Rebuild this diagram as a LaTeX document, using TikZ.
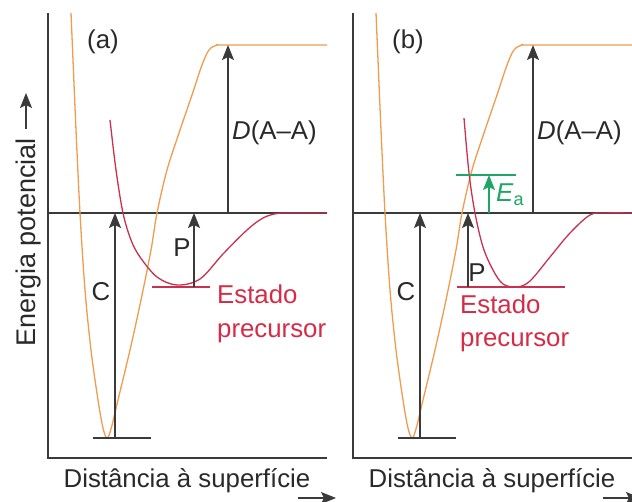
\documentclass[tikz,border=0pt]{standalone}
\usepackage{fontspec}
\setmainfont{Liberation Sans}
\usetikzlibrary{arrows.meta,positioning}
\definecolor{AxisGrey}{HTML}{3A3A3A}
\definecolor{CurveOrange}{HTML}{EE9C4E}
\definecolor{CurveRed}{HTML}{C8324E}
\definecolor{LabelRed}{HTML}{D62B46}
\definecolor{EaGreen}{HTML}{1FA566}

\begin{document}
\begin{tikzpicture}[x=1pt,y=-1pt,
  axis/.style={AxisGrey,line width=1.5pt},
  level/.style={AxisGrey,line width=1.4pt,-{Stealth[length=15pt,width=12pt,inset=3pt]}},
  orange/.style={CurveOrange,line width=1.3pt},
  redcurve/.style={CurveRed,line width=1.3pt},
  lab/.style={font=\fontsize{25.8}{30}\selectfont,text=AxisGrey!70!black,inner sep=0pt},
  redlab/.style={lab,text=LabelRed}]
  \useasboundingbox (0,0) rectangle (632,502);

  \foreach \dx/\pn in {0/a,305/b}{
    \begin{scope}[xshift=\dx]
      \draw[axis] (48,13) -- (48,458) -- (327,458);
      \draw[axis] (48,213) -- (327,213);
      \draw[orange] plot[smooth,tension=0.55] coordinates {(71,13) (73,60) (76,130) (80,213) (85,290) (91,350)
        (98,400) (103,428) (107,438) (111,429) (118,400) (130,350) (141,300) (151,250) (157,213) (167,170)
        (179,133) (192,95) (202,65) (209,50) (217,45) (226,45) (327,45)};
      \draw[axis] (93,438) -- (151,438);
      \coordinate (wellbot\pn) at (115,438);
      \coordinate (zeroC\pn) at (115,213);
      \coordinate (zeroD\pn) at (228,213);
      \coordinate (top\pn) at (228,45);
      \draw[level] (wellbot\pn) -- (zeroC\pn);
      \draw[level] (zeroD\pn) -- (top\pn);
      \node[lab] (C\pn) at (101,292) {C};
      \node[lab,anchor=west] (D\pn) at (232,133) {\textit{D}(A--A)};
      \node[lab] (panel\pn) at (103,42) {(\pn)};
      \node[lab,anchor=base] (xlab\pn) at (187,487) {Distância à superfície};
      \coordinate (xs\pn) at (298,498);
      \coordinate (xe\pn) at (336,498);
      \draw[level] (xs\pn) -- (xe\pn);
    \end{scope}
  }

  \node[lab,font=\fontsize{27}{32}\selectfont,rotate=90,anchor=base west] (ylab) at (35,347) {Energia potencial};
  \coordinate (ys) at (26,129);
  \coordinate (ye) at (26,93);
  \draw[level] (ys) -- (ye);

  % precursor well (a)
  \draw[redcurve] plot[smooth,tension=0.55] coordinates {(110,120) (116,170) (123,213) (131,240) (140,257)
    (157,277) (177,285) (200,279) (223,254) (247,230) (263,218) (277,213.5) (290,213) (327,213)};
  \draw[CurveRed,line width=1.3pt] (152,287) -- (210,287);
  \coordinate (precA) at (194,287);
  \coordinate (zeroPa) at (194,213);
  \draw[level] (precA) -- (zeroPa);
  \node[lab] (Pa) at (182,248) {P};
  \node[redlab,anchor=base west] (estA) at (217,304) {Estado};
  \node[redlab,anchor=base west] (curA) at (217,338) {precursor};

  % precursor well (b)
  \draw[redcurve] plot[smooth,tension=0.55] coordinates {(464,118) (469,173) (475,213) (483,247) (493,270)
    (503,284) (517,287) (530,281) (550,257) (570,233) (590,215) (605,213) (632,213)};
  \draw[CurveRed,line width=1.3pt] (457,287) -- (565,287);
  \coordinate (precB) at (468,287);
  \coordinate (zeroPb) at (468,213);
  \draw[level] (precB) -- (zeroPb);
  \node[lab] (Pb) at (477,273) {P};
  \node[redlab,anchor=base west] (estB) at (460,314) {Estado};
  \node[redlab,anchor=base west] (curB) at (460,347) {precursor};

  % activation barrier
  \draw[EaGreen,line width=1.4pt] (456,175) -- (516,175);
  \coordinate (eaS) at (489,213);
  \coordinate (eaE) at (489,175);
  \draw[level,EaGreen] (eaS) -- (eaE);
  \node[lab,text=EaGreen,anchor=base west] (Ea) at (496,202) {\textit{E}\textsubscript{a}};
\end{tikzpicture}
\end{document}
